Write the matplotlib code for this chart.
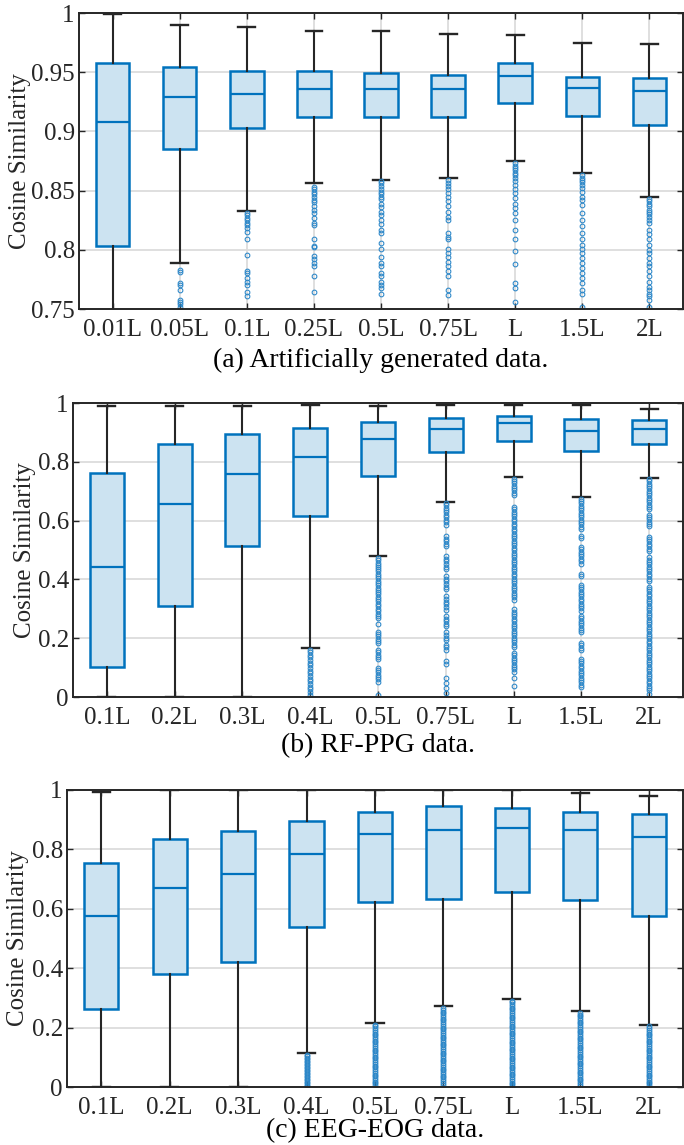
import matplotlib
matplotlib.use("Agg")
import matplotlib.pyplot as plt

plt.rcParams['font.family'] = ['Liberation Serif', 'DejaVu Serif']
plt.rcParams['font.size'] = 18

BLUE = '#0072BD'
FILL = '#CCE3F1'
DARK = '#262626'

# (a) Artificially generated data
labels_a = ['0.01L', '0.05L', '0.1L', '0.25L', '0.5L', '0.75L', 'L', '1.5L', '2L']
med_a = [0.908, 0.929, 0.932, 0.936, 0.936, 0.936, 0.947, 0.937, 0.934]
q1_a = [0.803, 0.885, 0.903, 0.912, 0.912, 0.912, 0.924, 0.913, 0.905]
q3_a = [0.958, 0.954, 0.951, 0.951, 0.949, 0.948, 0.958, 0.946, 0.945]
lo_a = [0.570, 0.789, 0.833, 0.856, 0.859, 0.861, 0.875, 0.865, 0.845]
hi_a = [0.999, 0.990, 0.988, 0.985, 0.985, 0.982, 0.981, 0.975, 0.974]
fl_a = [
    [],
    [0.783, 0.781, 0.772, 0.770, 0.766, 0.758, 0.756, 0.754, 0.752],
    [0.831, 0.829, 0.827, 0.825, 0.823, 0.821, 0.818, 0.815, 0.809, 0.796,
     0.782, 0.780, 0.776, 0.773, 0.770, 0.764, 0.761],
    [0.853, 0.851, 0.849, 0.847, 0.845, 0.842, 0.840, 0.837, 0.834, 0.831,
     0.827, 0.823, 0.821, 0.809, 0.803, 0.802, 0.795, 0.792, 0.789, 0.786,
     0.778, 0.764],
    [0.858, 0.856, 0.854, 0.851, 0.849, 0.847, 0.845, 0.843, 0.839, 0.836,
     0.832, 0.829, 0.825, 0.822, 0.817, 0.814, 0.806, 0.801, 0.794, 0.789,
     0.786, 0.780, 0.778, 0.773, 0.770, 0.768, 0.763],
    [0.859, 0.856, 0.854, 0.851, 0.848, 0.845, 0.841, 0.837, 0.832, 0.828,
     0.825, 0.814, 0.811, 0.809, 0.801, 0.797, 0.794, 0.790, 0.786, 0.782,
     0.778, 0.766, 0.762],
    [0.873, 0.871, 0.869, 0.867, 0.865, 0.863, 0.861, 0.858, 0.855, 0.851,
     0.848, 0.844, 0.839, 0.835, 0.831, 0.825, 0.817, 0.809, 0.799, 0.788,
     0.772, 0.768, 0.756],
    [0.863, 0.861, 0.859, 0.857, 0.855, 0.852, 0.849, 0.845, 0.842, 0.838,
     0.831, 0.825, 0.820, 0.814, 0.809, 0.804, 0.801, 0.797, 0.793, 0.789,
     0.785, 0.780, 0.776, 0.772, 0.766, 0.763, 0.752],
    [0.843, 0.841, 0.839, 0.837, 0.834, 0.832, 0.830, 0.828, 0.825, 0.823,
     0.817, 0.813, 0.809, 0.804, 0.800, 0.797, 0.793, 0.789, 0.786, 0.782,
     0.778, 0.773, 0.769, 0.766, 0.763, 0.761, 0.758, 0.752],
]

# (b) RF-PPG data
labels_b = ['0.1L', '0.2L', '0.3L', '0.4L', '0.5L', '0.75L', 'L', '1.5L', '2L']
med_b = [0.443, 0.656, 0.759, 0.816, 0.877, 0.911, 0.931, 0.904, 0.911]
q1_b = [0.101, 0.309, 0.514, 0.614, 0.751, 0.834, 0.871, 0.837, 0.860]
q3_b = [0.761, 0.860, 0.896, 0.915, 0.937, 0.950, 0.957, 0.947, 0.941]
lo_b = [0.0, 0.0, 0.0, 0.166, 0.481, 0.663, 0.749, 0.680, 0.745]
hi_b = [0.991, 0.991, 0.991, 0.994, 0.991, 0.994, 0.992, 0.992, 0.981]
fl_b = [
    [], [], [],
    [0.160, 0.152, 0.143, 0.135, 0.126, 0.117, 0.108, 0.099, 0.090, 0.080,
     0.071, 0.062, 0.053, 0.044, 0.035, 0.026, 0.017, 0.008],
    [0.472, 0.465, 0.457, 0.450, 0.442, 0.434, 0.427, 0.419, 0.411, 0.404,
     0.396, 0.388, 0.380, 0.372, 0.365, 0.357, 0.349, 0.341, 0.333, 0.325,
     0.317, 0.309, 0.300, 0.292, 0.284, 0.276, 0.268, 0.248, 0.222, 0.214,
     0.206, 0.198, 0.190, 0.182, 0.160, 0.152, 0.144, 0.136, 0.128, 0.100,
     0.092, 0.084, 0.076, 0.068, 0.060, 0.052, 0.007],
    [0.660, 0.652, 0.644, 0.636, 0.628, 0.620, 0.612, 0.603, 0.594, 0.585,
     0.546, 0.538, 0.530, 0.521, 0.512, 0.478, 0.470, 0.461, 0.452, 0.443,
     0.434, 0.411, 0.402, 0.393, 0.384, 0.375, 0.366, 0.342, 0.333, 0.324,
     0.315, 0.306, 0.297, 0.275, 0.266, 0.257, 0.248, 0.240, 0.220, 0.211,
     0.202, 0.195, 0.178, 0.169, 0.160, 0.122, 0.113, 0.064, 0.048, 0.029,
     0.015],
    [0.742, 0.735, 0.727, 0.719, 0.711, 0.703, 0.695, 0.687, 0.646, 0.638,
     0.630, 0.622, 0.614, 0.606, 0.597, 0.589, 0.581, 0.573, 0.565, 0.556,
     0.548, 0.540, 0.532, 0.524, 0.516, 0.508, 0.499, 0.491, 0.483, 0.475,
     0.467, 0.459, 0.451, 0.443, 0.435, 0.427, 0.419, 0.411, 0.403, 0.395,
     0.387, 0.379, 0.371, 0.363, 0.355, 0.347, 0.339, 0.331, 0.298, 0.290,
     0.282, 0.274, 0.266, 0.258, 0.250, 0.242, 0.234, 0.226, 0.218, 0.210,
     0.202, 0.194, 0.186, 0.178, 0.170, 0.150, 0.142, 0.134, 0.126, 0.118,
     0.110, 0.102, 0.094, 0.086, 0.064, 0.036],
    [0.675, 0.667, 0.659, 0.651, 0.643, 0.635, 0.627, 0.619, 0.611, 0.603,
     0.595, 0.587, 0.579, 0.570, 0.548, 0.540, 0.510, 0.502, 0.494, 0.486,
     0.478, 0.470, 0.462, 0.454, 0.418, 0.410, 0.382, 0.374, 0.366, 0.358,
     0.350, 0.342, 0.334, 0.326, 0.318, 0.310, 0.302, 0.294, 0.276, 0.268,
     0.260, 0.252, 0.244, 0.236, 0.228, 0.220, 0.184, 0.176, 0.168, 0.160,
     0.130, 0.122, 0.114, 0.106, 0.098, 0.090, 0.082, 0.074, 0.066, 0.058,
     0.050, 0.042, 0.034],
    [0.742, 0.734, 0.726, 0.718, 0.710, 0.702, 0.694, 0.686, 0.678, 0.670,
     0.662, 0.654, 0.646, 0.638, 0.620, 0.612, 0.604, 0.596, 0.588, 0.580,
     0.545, 0.537, 0.529, 0.521, 0.513, 0.505, 0.497, 0.475, 0.467, 0.459,
     0.451, 0.443, 0.435, 0.427, 0.419, 0.411, 0.403, 0.395, 0.375, 0.367,
     0.359, 0.351, 0.343, 0.335, 0.327, 0.319, 0.311, 0.303, 0.295, 0.287,
     0.279, 0.271, 0.263, 0.255, 0.247, 0.239, 0.231, 0.223, 0.215, 0.207,
     0.199, 0.191, 0.183, 0.175, 0.167, 0.159, 0.151, 0.143, 0.135, 0.127,
     0.119, 0.111, 0.103, 0.095, 0.087, 0.079, 0.071, 0.063, 0.055, 0.047,
     0.039, 0.031, 0.023, 0.010],
]

# (c) EEG-EOG data
labels_c = ['0.1L', '0.2L', '0.3L', '0.4L', '0.5L', '0.75L', 'L', '1.5L', '2L']
med_c = [0.576, 0.670, 0.717, 0.783, 0.852, 0.867, 0.872, 0.866, 0.843]
q1_c = [0.262, 0.382, 0.421, 0.540, 0.623, 0.632, 0.658, 0.631, 0.575]
q3_c = [0.755, 0.836, 0.861, 0.896, 0.927, 0.946, 0.941, 0.925, 0.918]
lo_c = [0.0, 0.0, 0.0, 0.113, 0.217, 0.273, 0.297, 0.257, 0.210]
hi_c = [0.994, 0.999, 0.999, 0.999, 0.999, 0.999, 0.999, 0.990, 0.980]
fl_c = [
    [], [], [],
    [0.108, 0.103, 0.098, 0.093, 0.088, 0.083, 0.078, 0.073, 0.068, 0.063,
     0.058, 0.053, 0.048, 0.043, 0.038, 0.033, 0.028, 0.023, 0.018, 0.013,
     0.008, 0.004],
    [0.210, 0.204, 0.198, 0.192, 0.186, 0.180, 0.174, 0.168, 0.162, 0.156,
     0.150, 0.144, 0.138, 0.132, 0.126, 0.120, 0.114, 0.108, 0.102, 0.096,
     0.090, 0.084, 0.078, 0.072, 0.066, 0.060, 0.054, 0.048, 0.042, 0.036,
     0.030, 0.024, 0.018, 0.012, 0.006],
    [0.266, 0.260, 0.254, 0.248, 0.242, 0.236, 0.230, 0.224, 0.218, 0.212,
     0.206, 0.200, 0.194, 0.188, 0.182, 0.176, 0.170, 0.164, 0.158, 0.152,
     0.146, 0.140, 0.134, 0.128, 0.122, 0.116, 0.110, 0.104, 0.098, 0.092,
     0.086, 0.080, 0.074, 0.068, 0.062, 0.056, 0.050, 0.044, 0.038, 0.032,
     0.026, 0.020, 0.014, 0.008],
    [0.291, 0.285, 0.279, 0.273, 0.267, 0.261, 0.255, 0.249, 0.243, 0.237,
     0.231, 0.225, 0.219, 0.213, 0.207, 0.201, 0.195, 0.189, 0.183, 0.177,
     0.171, 0.165, 0.159, 0.153, 0.147, 0.141, 0.135, 0.129, 0.123, 0.117,
     0.111, 0.105, 0.099, 0.093, 0.087, 0.081, 0.075, 0.069, 0.063, 0.057,
     0.051, 0.045, 0.039, 0.033, 0.027, 0.021, 0.015, 0.009, 0.004],
    [0.250, 0.244, 0.238, 0.232, 0.226, 0.220, 0.214, 0.208, 0.202, 0.196,
     0.190, 0.184, 0.178, 0.172, 0.166, 0.160, 0.154, 0.148, 0.142, 0.136,
     0.130, 0.124, 0.118, 0.112, 0.106, 0.100, 0.094, 0.088, 0.082, 0.076,
     0.070, 0.064, 0.058, 0.052, 0.046, 0.040, 0.034, 0.028, 0.022, 0.016,
     0.010, 0.004],
    [0.204, 0.198, 0.192, 0.186, 0.180, 0.174, 0.168, 0.162, 0.156, 0.150,
     0.144, 0.138, 0.132, 0.126, 0.120, 0.114, 0.108, 0.102, 0.096, 0.090,
     0.084, 0.078, 0.072, 0.066, 0.060, 0.054, 0.048, 0.042, 0.036, 0.030,
     0.024, 0.018, 0.012, 0.006],
]

panels = [
    # (left, top, bottom) in pixels, ylabel x, caption y
    dict(box=(79, 13, 309), ylx=20, cap_y=360, caption='(a) Artificially generated data.',
         labels=labels_a, med=med_a, q1=q1_a, q3=q3_a, lo=lo_a, hi=hi_a, fl=fl_a,
         ylim=(0.75, 1.0), yt=[0.75, 0.8, 0.85, 0.9, 0.95, 1.0],
         ytl=['0.75', '0.8', '0.85', '0.9', '0.95', '1']),
    dict(box=(73, 403, 697), ylx=25, cap_y=746, caption='(b) RF-PPG data.',
         labels=labels_b, med=med_b, q1=q1_b, q3=q3_b, lo=lo_b, hi=hi_b, fl=fl_b,
         ylim=(0.0, 1.0), yt=[0, 0.2, 0.4, 0.6, 0.8, 1.0],
         ytl=['0', '0.2', '0.4', '0.6', '0.8', '1']),
    dict(box=(67, 790, 1087), ylx=18, cap_y=1131, caption='(c) EEG-EOG data.',
         labels=labels_c, med=med_c, q1=q1_c, q3=q3_c, lo=lo_c, hi=hi_c, fl=fl_c,
         ylim=(0.0, 1.0), yt=[0, 0.2, 0.4, 0.6, 0.8, 1.0],
         ytl=['0', '0.2', '0.4', '0.6', '0.8', '1']),
]

W, H = 684, 1145
fig = plt.figure(figsize=(W / 100, H / 100), dpi=100)

for p in panels:
    left, top, bot = p['box']
    right = 683
    ax = fig.add_axes([left / W, 1 - bot / H, (right - left) / W, (bot - top) / H])

    stats = []
    for i in range(len(p['labels'])):
        stats.append(dict(med=p['med'][i], q1=p['q1'][i], q3=p['q3'][i],
                          whislo=p['lo'][i], whishi=p['hi'][i],
                          fliers=p['fl'][i], label=p['labels'][i]))

    ax.bxp(stats, widths=0.5, capwidths=0.25, patch_artist=True,
           boxprops=dict(facecolor=FILL, edgecolor=BLUE, linewidth=1.8),
           medianprops=dict(color=BLUE, linewidth=1.6),
           whiskerprops=dict(color=DARK, linewidth=1.5),
           capprops=dict(color=DARK, linewidth=1.7),
           flierprops=dict(marker='o', markersize=3.4, markerfacecolor='none',
                           markeredgecolor='#2a86c8', markeredgewidth=0.75,
                           linestyle='none'))

    ax.set_xlim(0.5, len(p['labels']) + 0.5)
    ax.set_ylim(*p['ylim'])
    ax.set_yticks(p['yt'])
    ax.set_yticklabels(p['ytl'])
    ax.grid(True, color='#dcdcdc', linewidth=1.3)
    ax.set_axisbelow(True)
    ax.tick_params(direction='in', length=4, width=1.0, colors=DARK,
                   top=True, right=True, labelsize=18)
    ax.tick_params(axis='x', pad=7)
    ax.tick_params(axis='y', pad=3)
    for s in ax.spines.values():
        s.set_color(DARK)
        s.set_linewidth(1.4)

    fig.text(p['ylx'] / W, 1 - (top + bot) / 2 / H, 'Cosine Similarity',
             rotation=90, ha='center', va='center', fontsize=18, color=DARK)
    fig.text((left + right) / 2 / W, 1 - p['cap_y'] / H, p['caption'],
             ha='center', va='center', fontsize=20, color='black')

fig.savefig('out.png', dpi=100, facecolor='white')
